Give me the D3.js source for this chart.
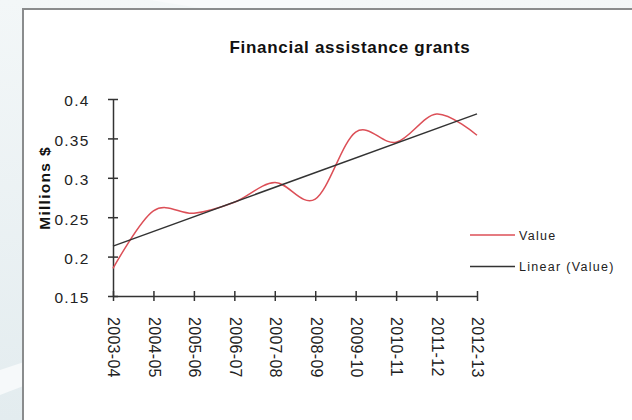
<!DOCTYPE html>
<html><head><meta charset="utf-8">
<script src="https://cdn.jsdelivr.net/npm/d3@7"></script>
<style>body{margin:0;padding:0;overflow:hidden;background:#eef4f6}</style>
</head><body>
<script>
const categories = ["2003-04","2004-05","2005-06","2006-07","2007-08","2008-09","2009-10","2010-11","2011-12","2012-13"];
const values = [0.185,0.258,0.255,0.269,0.294,0.273,0.358,0.345,0.381,0.354];
const yTicks = [0.15,0.2,0.25,0.3,0.35,0.4];
const yTickLabels = ["0.15","0.2","0.25","0.3","0.35","0.4"];
const legendLabels = ["Value","Linear (Value)"];
const title = "Financial assistance grants";
const yTitle = "Millions $";

const W=632,H=420;
const FONT="Liberation Sans, Arial, sans-serif";
const svg=d3.select("body").append("svg").attr("width",W).attr("height",H);
const defs=svg.append("defs");
const g1=defs.append("linearGradient").attr("id","bg").attr("x1","0").attr("y1","0").attr("x2","0").attr("y2","1");
g1.append("stop").attr("offset","0").attr("stop-color","#f3f7f8");
g1.append("stop").attr("offset","1").attr("stop-color","#e3ecef");
svg.append("rect").attr("width",W).attr("height",H).attr("fill","url(#bg)");
svg.append("path").attr("d","M0,370 L60,350 L60,372 L0,395 Z").attr("fill","#f6f9fa");
svg.append("path").attr("d","M150,0 L330,0 L330,8 L200,8 Z").attr("fill","#f8fafb");
svg.append("rect").attr("x",23).attr("y",9).attr("width",W).attr("height",H).attr("fill","#fff").attr("stroke","#8a8c8d").attr("stroke-width",2);

const x=d3.scalePoint().domain(categories).range([113,477]);
const y=d3.scaleLinear().domain([0.15,0.4]).range([296,99]);

svg.append("text").attr("x",350).attr("y",53).attr("text-anchor","middle")
 .attr("font-family",FONT).attr("font-weight","bold").attr("font-size",17).attr("letter-spacing",0.7)
 .attr("fill","#111").text(title);

const ya=svg.append("g").attr("transform","translate(113,0)")
 .call(d3.axisLeft(y).tickValues(yTicks).tickFormat((d,i)=>yTickLabels[i]).tickSizeInner(5).tickSizeOuter(0).tickPadding(18.5));
ya.select(".domain").attr("stroke","#333").attr("stroke-width",1.5);
ya.selectAll(".tick line").attr("x2",5).attr("x1",-5).attr("stroke","#333").attr("stroke-width",1.5);
ya.selectAll(".tick text").attr("font-family",FONT).attr("font-size",15.5).attr("letter-spacing",1.2).attr("fill","#222").attr("dy","0.45em");

const xa=svg.append("g").attr("transform","translate(0,296)")
 .call(d3.axisBottom(x).tickSizeInner(5).tickSizeOuter(0).tickPadding(0));
xa.select(".domain").attr("stroke","#333").attr("stroke-width",1.5);
xa.selectAll(".tick line").attr("y1",-5).attr("y2",5).attr("stroke","#333").attr("stroke-width",1.5);
xa.selectAll(".tick text").attr("font-family",FONT).attr("font-size",16).attr("letter-spacing",0.3).attr("fill","#222")
 .attr("transform","rotate(90)").attr("text-anchor","start").attr("dy","0.32em").attr("x",21).attr("y",0);

svg.append("text").attr("transform","translate(50,188) rotate(-90)").attr("text-anchor","middle")
 .attr("font-family",FONT).attr("font-weight","bold").attr("font-size",15.5).attr("letter-spacing",1.3).attr("fill","#111").text(yTitle);

const n=values.length, mx=d3.mean(values,(d,i)=>i), my=d3.mean(values);
const slope=d3.sum(values,(d,i)=>(i-mx)*(d-my))/d3.sum(values,(d,i)=>(i-mx)*(i-mx));
const icp=my-slope*mx;
const trend=[[categories[0],icp],[categories[n-1],icp+slope*(n-1)]];

svg.append("path").datum(values).attr("fill","none").attr("stroke","#dc4f57").attr("stroke-width",1.5)
 .attr("d",d3.line().x((d,i)=>x(categories[i])).y(d=>y(d)).curve(d3.curveCardinal.tension(0)));
svg.append("path").datum(trend).attr("fill","none").attr("stroke","#333").attr("stroke-width",1.5)
 .attr("d",d3.line().x(d=>x(d[0])).y(d=>y(d[1])));

const lg=svg.append("g");
const lc=["#dc4f57","#333"];
legendLabels.forEach((t,i)=>{
 const yy=235+i*31.5;
 lg.append("line").attr("x1",470).attr("x2",515).attr("y1",yy).attr("y2",yy).attr("stroke",lc[i]).attr("stroke-width",1.3);
 lg.append("text").attr("x",519).attr("y",yy).attr("dy","0.38em").attr("font-family",FONT).attr("font-size",12.5).attr("letter-spacing",1.3).attr("fill","#222").text(t);
});
</script>
</body></html>
